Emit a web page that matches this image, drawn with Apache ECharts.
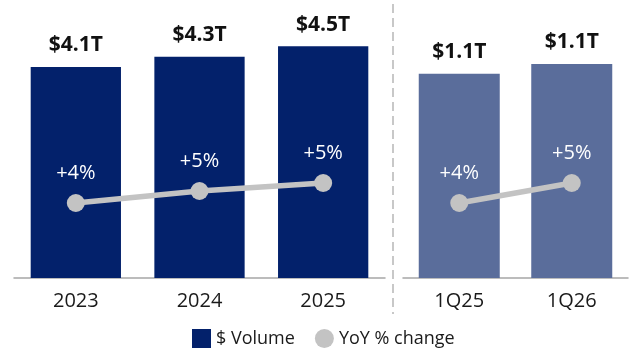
<!DOCTYPE html>
<html>
<head>
<meta charset="utf-8">
<script src="https://cdn.jsdelivr.net/npm/echarts@6/dist/echarts.min.js"></script>
<style>
  html, body { margin: 0; padding: 0; background: #ffffff; }
  #chart { width: 629px; height: 352px; }
</style>
</head>
<body>
<div id="chart"></div>
<script>
// Annual figures
const yearCategories = ['2023', '2024', '2025'];
const yearVolume = [4.1, 4.3, 4.5];          // $ trillions
const yearGrowth = [4.1, 4.7, 5.1];          // YoY % change

// First-quarter figures
const quarterCategories = ['1Q25', '1Q26'];
const quarterVolume = [1.06, 1.11];          // $ trillions
const quarterGrowth = [4.1, 5.1];            // YoY % change

const FONT = '"Open Sans", "Noto Sans", sans-serif';
const NAVY = '#03216b';
const SLATE = '#5a6d9b';
const GREY_LINE = '#c3c3c3';

const volumeLabel = {
  show: true,
  position: 'top',
  distance: 11,
  color: '#111',
  fontFamily: FONT,
  fontWeight: 'bold',
  fontSize: 21,
  formatter: p => '$' + p.value.toFixed(1) + 'T'
};

const growthLabel = {
  show: true,
  position: 'top',
  distance: 11,
  color: '#ffffff',
  fontFamily: FONT,
  fontSize: 20,
  formatter: p => '+' + Math.round(p.value) + '%'
};

const catAxis = (idx, data) => ({
  type: 'category',
  gridIndex: idx,
  data: data,
  axisTick: { show: false },
  axisLine: { show: true, lineStyle: { color: '#a6a6a6', width: 1.5 } },
  axisLabel: { color: '#1a1a1a', fontFamily: FONT, fontSize: 20, margin: 13 }
});

const valAxis = (idx, min, max) => ({
  type: 'value',
  gridIndex: idx,
  min: min,
  max: max,
  show: false,
  splitLine: { show: false }
});

const chart = echarts.init(document.getElementById('chart'), null, { renderer: 'canvas' });

chart.setOption({
  animation: false,
  backgroundColor: '#ffffff',
  grid: [
    { left: 14, top: 0, width: 371, height: 278 },
    { left: 403, top: 0, width: 225, height: 278 }
  ],
  xAxis: [catAxis(0, yearCategories), catAxis(1, quarterCategories)],
  yAxis: [
    valAxis(0, 0, 5.4),
    valAxis(0, 0.35, 14.25),
    valAxis(1, 0, 1.442),
    valAxis(1, 0.35, 14.25)
  ],
  legend: {
    bottom: 0,
    left: 188,
    padding: 4,
    itemWidth: 19,
    itemHeight: 19,
    itemGap: 20,
    textStyle: { fontFamily: FONT, fontSize: 18, color: '#1a1a1a' },
    data: [
      { name: '$ Volume', icon: 'rect', itemStyle: { color: NAVY } },
      { name: 'YoY % change', icon: 'circle', itemStyle: { color: GREY_LINE } }
    ]
  },
  graphic: [
    {
      type: 'line',
      shape: { x1: 393, y1: 4, x2: 393, y2: 314 },
      style: { stroke: '#c8c8c8', lineWidth: 2, lineDash: [9, 5] },
      silent: true
    }
  ],
  series: [
    {
      name: '$ Volume',
      type: 'bar',
      xAxisIndex: 0,
      yAxisIndex: 0,
      data: yearVolume,
      barCategoryGap: '27%',
      itemStyle: { color: NAVY },
      label: volumeLabel,
      z: 2
    },
    {
      name: 'YoY % change',
      type: 'line',
      xAxisIndex: 0,
      yAxisIndex: 1,
      data: yearGrowth,
      symbol: 'circle',
      symbolSize: 18,
      lineStyle: { color: GREY_LINE, width: 5.5 },
      itemStyle: { color: GREY_LINE },
      label: growthLabel,
      z: 3
    },
    {
      name: '$ Volume',
      type: 'bar',
      xAxisIndex: 1,
      yAxisIndex: 2,
      data: quarterVolume,
      barCategoryGap: '28%',
      itemStyle: { color: SLATE },
      label: volumeLabel,
      z: 2
    },
    {
      name: 'YoY % change',
      type: 'line',
      xAxisIndex: 1,
      yAxisIndex: 3,
      data: quarterGrowth,
      symbol: 'circle',
      symbolSize: 18,
      lineStyle: { color: GREY_LINE, width: 5.5 },
      itemStyle: { color: GREY_LINE },
      label: growthLabel,
      z: 3
    }
  ]
});
</script>
</body>
</html>
